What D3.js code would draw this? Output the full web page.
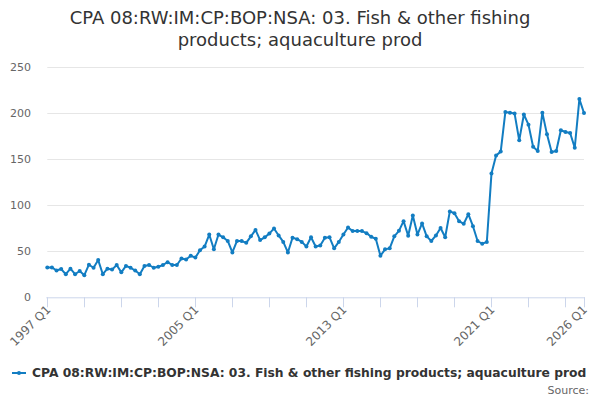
<!DOCTYPE html>
<html>
<head>
<meta charset="utf-8">
<script src="https://cdn.jsdelivr.net/npm/d3@7"></script>
<style>
  body { margin: 0; background: #fff; }
  svg { font-family: "DejaVu Sans", sans-serif; }
</style>
</head>
<body>
<svg id="chart" width="600" height="400"></svg>
<script>
var titleLines = ["CPA 08:RW:IM:CP:BOP:NSA: 03. Fish & other fishing",
                  "products; aquaculture prod"]
var seriesName = "CPA 08:RW:IM:CP:BOP:NSA: 03. Fish & other fishing products; aquaculture prod"

// quarterly values, 1997 Q1 .. 2026 Q1
var values = [
  32.4, 32.4, 29, 30.6, 25, 31, 25, 28.5, 24, 35.3, 32, 40.3,
  25, 31, 30, 35, 27, 34, 32, 29, 25, 34, 35, 32,
  33, 35, 38, 35, 35, 42, 41, 45, 43, 51, 55, 68,
  52, 68, 65, 61, 48.6, 61, 61, 59, 66, 73, 62, 65,
  69, 74.6, 67, 60, 48.6, 64.5, 63, 60, 55, 65, 55, 56,
  64.5, 65, 53, 60, 68, 75.6, 71.7, 71.7, 71.7, 69.5, 65.6, 63.4,
  45, 52, 53, 66, 72, 82.5, 66.6, 88.6, 68, 80, 66, 61,
  67, 75, 65, 93, 91, 82.5, 79.6, 90, 77, 61, 58, 60,
  134, 153.5, 157.8, 200.6, 200, 199, 170, 198, 187, 163, 158.5, 200,
  176.5, 157.4, 158.5, 181, 179, 178, 162, 214.7, 199.6
]
var yTicks = [0, 50, 100, 150, 200, 250]

var categories = values.map(function(d, i) {
  return (1997 + Math.floor(i / 4)) + " Q" + (i % 4 + 1)
})
var labelCats = ["1997 Q1", "2005 Q1", "2013 Q1", "2021 Q1", "2026 Q1"]

var svg = d3.select('#chart')
var plotLeft = 47.3, plotRight = 584, plotTop = 66.5, plotBottom = 297.3
var color = "#127dc2"

var x = d3.scalePoint().domain(categories).range([plotLeft, plotRight])
var y = d3.scaleLinear().domain([0, 250]).range([plotBottom, plotTop])

// title
svg.append('text')
  .attr('x', 300).attr('y', 24)
  .attr('text-anchor', 'middle')
  .style('font-size', '18px').style('fill', '#333')
  .selectAll('tspan').data(titleLines).enter().append('tspan')
    .attr('x', 300).attr('dy', function(d, i) { return i ? 22 : 0 })
    .text(function(d) { return d })

// grid + y labels
var yAxis = svg.append('g')
yAxis.selectAll('line').data(yTicks.slice(1)).enter().append('line')
  .attr('x1', plotLeft).attr('x2', plotRight)
  .attr('y1', function(d) { return Math.round(y(d)) + 0.5 })
  .attr('y2', function(d) { return Math.round(y(d)) + 0.5 })
  .attr('stroke', '#e6e6e6')
yAxis.selectAll('text').data(yTicks).enter().append('text')
  .attr('x', 31).attr('y', function(d) { return y(d) + 4 })
  .attr('text-anchor', 'end')
  .style('font-size', '11px').style('fill', '#666')
  .text(function(d) { return d })

// x axis
var tickCats = categories.filter(function(d, i) { return i % 8 == 0 })
tickCats.push(categories[categories.length - 1])
var xAxis = svg.append('g')
xAxis.append('line')
  .attr('x1', plotLeft - 1).attr('x2', plotRight + 1)
  .attr('y1', plotBottom + 0.5).attr('y2', plotBottom + 0.5)
  .attr('stroke', '#ccd6eb')
xAxis.selectAll('line.tick').data(tickCats).enter().append('line')
  .attr('class', 'tick')
  .attr('x1', function(d) { return Math.round(x(d)) + 0.5 })
  .attr('x2', function(d) { return Math.round(x(d)) + 0.5 })
  .attr('y1', plotBottom).attr('y2', plotBottom + 10)
  .attr('stroke', '#ccd6eb')
xAxis.selectAll('text').data(labelCats).enter().append('text')
  .attr('text-anchor', 'end')
  .attr('transform', function(d) {
    return 'translate(' + (x(d) + 4) + ',' + (plotBottom + 13) + ') rotate(-45)'
  })
  .style('font-size', '12px').style('fill', '#666')
  .text(function(d) { return d })

// series
var line = d3.line()
  .x(function(d, i) { return x(categories[i]) })
  .y(function(d) { return y(d) })
svg.append('path').datum(values)
  .attr('d', line)
  .attr('fill', 'none').attr('stroke', color)
  .attr('stroke-width', 2).attr('stroke-linejoin', 'round')
svg.append('g').selectAll('circle').data(values).enter().append('circle')
  .attr('cx', function(d, i) { return x(categories[i]) })
  .attr('cy', function(d) { return y(d) })
  .attr('r', 2).attr('fill', color)

// legend
var legend = svg.append('g')
legend.append('line')
  .attr('x1', 12).attr('x2', 26).attr('y1', 373).attr('y2', 373)
  .attr('stroke', color).attr('stroke-width', 2)
legend.append('circle').attr('cx', 19).attr('cy', 373).attr('r', 2).attr('fill', color)
legend.append('text')
  .attr('x', 32).attr('y', 377)
  .style('font-size', '12.3px').style('font-weight', 'bold').style('fill', '#333')
  .text(seriesName)

svg.append('text')
  .attr('x', 589).attr('y', 394)
  .attr('text-anchor', 'end')
  .style('font-size', '11px').style('fill', '#666')
  .text('Source:')
</script>
</body>
</html>
